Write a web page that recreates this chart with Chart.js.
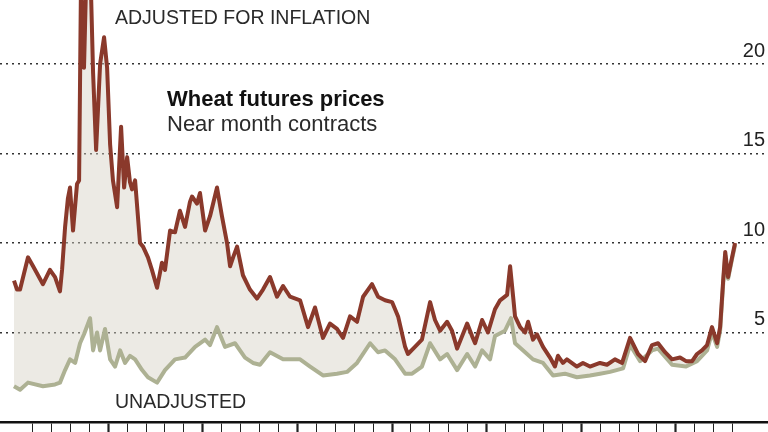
<!DOCTYPE html>
<html>
<head>
<meta charset="utf-8">
<script src="https://cdn.jsdelivr.net/npm/chart.js@4.4.1/dist/chart.umd.min.js"></script>
<style>
  html, body { margin: 0; padding: 0; background: #fff; }
  #wrap { width: 768px; height: 432px; }
</style>
</head>
<body>
<div id="wrap"><canvas id="wheat" width="768" height="432"></canvas></div>
<script>
// wheat futures, near month contracts, dollars per bushel
// adjusted = in 2008 dollars
var adjYears = [1970.02, 1970.18, 1970.34, 1970.76, 1971.03, 1971.55, 1971.92, 1972.19, 1972.45, 1972.56,
  1972.72, 1972.87, 1972.98, 1973.14, 1973.35, 1973.46, 1973.56, 1973.72, 1973.83, 1974.09,
  1974.20, 1974.36, 1974.46, 1974.57, 1974.78, 1974.94, 1975.10, 1975.25, 1975.47, 1975.68,
  1975.84, 1976.00, 1976.15, 1976.26, 1976.42, 1976.68, 1976.84, 1977.10, 1977.31, 1977.58,
  1977.84, 1978.00, 1978.27, 1978.53, 1978.79, 1979.06, 1979.32, 1979.43, 1979.69, 1979.85,
  1980.12, 1980.38, 1980.75, 1981.01, 1981.28, 1981.44, 1981.60, 1981.81, 1982.12, 1982.49,
  1982.86, 1983.18, 1983.55, 1983.92, 1984.24, 1984.61, 1985.14, 1985.56, 1985.93, 1986.35,
  1986.72, 1987.09, 1987.41, 1987.78, 1988.15, 1988.47, 1988.94, 1989.26, 1989.63, 1990.00,
  1990.32, 1990.69, 1990.84, 1991.21, 1991.58, 1992.01, 1992.27, 1992.54, 1992.91, 1993.17,
  1993.44, 1993.97, 1994.23, 1994.39, 1994.76, 1995.07, 1995.44, 1995.71, 1996.08, 1996.24,
  1996.40, 1996.50, 1996.77, 1997.03, 1997.19, 1997.45, 1997.66, 1997.98, 1998.35, 1998.61,
  1998.77, 1999.03, 1999.24, 1999.77, 2000.09, 2000.46, 2000.99, 2001.36, 2001.78, 2002.16,
  2002.58, 2003.00, 2003.37, 2003.74, 2004.06, 2004.43, 2004.80, 2005.22, 2005.54, 2005.86,
  2006.12, 2006.38, 2006.65, 2006.91, 2007.18, 2007.34, 2007.50, 2007.61, 2007.76, 2007.97,
  2008.13];
var adjPrices = [7.9, 7.4, 7.4, 9.2, 8.7, 7.7, 8.5, 8.1, 7.3, 8.5,
  10.9, 12.5, 13.1, 10.7, 13.3, 13.5, 24.5, 19.8, 24.5, 24.0,
  19.5, 15.2, 17.5, 20.0, 21.5, 19.8, 15.5, 13.5, 12.0, 16.5,
  13.1, 14.8, 13.4, 13.0, 13.5, 10.0, 9.8, 9.2, 8.5, 7.5,
  8.9, 8.5, 10.7, 10.6, 11.8, 10.9, 12.3, 12.6, 12.2, 12.8,
  10.7, 11.5, 13.1, 11.5, 10.0, 8.7, 9.2, 9.8, 8.2, 7.4,
  6.9, 7.4, 8.1, 7.0, 7.6, 7.0, 6.8, 5.3, 6.4, 4.7,
  5.5, 5.2, 4.7, 5.9, 5.6, 7.0, 7.7, 7.0, 6.8, 6.7,
  5.9, 4.2, 3.8, 4.2, 4.6, 6.7, 5.7, 5.1, 5.6, 5.1,
  4.1, 5.5, 4.8, 4.4, 5.7, 5.0, 6.3, 6.8, 7.1, 8.7,
  7.0, 5.9, 5.3, 5.0, 5.6, 4.6, 4.9, 4.2, 3.6, 3.1,
  3.7, 3.3, 3.5, 3.1, 3.3, 3.1, 3.3, 3.2, 3.5, 3.3,
  4.7, 3.8, 3.4, 4.3, 4.4, 3.9, 3.5, 3.6, 3.4, 3.4,
  3.8, 4.0, 4.3, 5.3, 4.4, 5.3, 7.9, 9.5, 8.1, 9.2,
  10.0];

var unadjYears = [1970.02, 1970.34, 1970.76, 1971.55, 1972.19, 1972.45, 1972.72, 1972.98, 1973.25, 1973.51,
  1973.72, 1974.04, 1974.20, 1974.41, 1974.57, 1974.83, 1975.10, 1975.36, 1975.63, 1975.89,
  1976.15, 1976.42, 1976.79, 1977.10, 1977.58, 1978.00, 1978.53, 1979.06, 1979.59, 1980.12,
  1980.38, 1980.75, 1981.17, 1981.70, 1982.23, 1982.65, 1983.02, 1983.55, 1984.24, 1985.14,
  1985.67, 1986.35, 1987.09, 1987.62, 1988.15, 1988.84, 1989.26, 1989.63, 1990.16, 1990.69,
  1991.06, 1991.58, 1992.01, 1992.54, 1992.91, 1993.44, 1993.97, 1994.39, 1994.76, 1995.18,
  1995.44, 1995.97, 1996.29, 1996.50, 1996.93, 1997.45, 1997.98, 1998.51, 1999.14, 1999.77,
  2000.46, 2000.99, 2001.52, 2002.21, 2002.58, 2003.11, 2003.74, 2004.06, 2004.80, 2005.54,
  2006.12, 2006.65, 2006.91, 2007.18, 2007.34, 2007.50, 2007.61, 2007.76, 2007.97, 2008.13];
var unadjPrices = [2.0, 1.8, 2.2, 2.0, 2.1, 2.2, 2.9, 3.5, 3.3, 4.4,
  4.9, 5.8, 4.0, 5.0, 4.0, 5.2, 3.5, 3.1, 4.0, 3.3,
  3.7, 3.5, 2.9, 2.5, 2.2, 2.9, 3.5, 3.6, 4.2, 4.6,
  4.3, 5.3, 4.2, 4.4, 3.6, 3.3, 3.2, 3.9, 3.5, 3.5,
  3.1, 2.6, 2.7, 2.8, 3.3, 4.4, 3.9, 4.0, 3.5, 2.7,
  2.7, 3.1, 4.4, 3.5, 3.8, 2.9, 3.8, 3.1, 4.0, 3.5,
  4.8, 5.1, 5.8, 4.4, 4.0, 3.5, 3.3, 2.6, 2.7, 2.5,
  2.6, 2.7, 2.8, 3.0, 4.3, 3.4, 4.0, 4.1, 3.2, 3.1,
  3.4, 4.0, 5.0, 4.2, 5.1, 7.7, 9.3, 8.0, 9.1, 9.9];

var gridValues = [5, 10, 15, 20];
var firstTickYear = 1971;
var lastTickYear = 2008;

function toPoints(xs, ys) {
  return xs.map(function (x, i) { return { x: x, y: ys[i] }; });
}

// text labels placed on the graphic
var notes = {
  id: 'notes',
  afterDatasetsDraw: function (chart) {
    var c = chart.ctx;
    c.save();
    c.textBaseline = 'alphabetic';
    c.textAlign = 'left';
    c.fillStyle = '#2a2a2a';
    c.font = '19.5px "Liberation Sans", Arial, sans-serif';
    c.fillText('ADJUSTED FOR INFLATION', 115, 24);
    c.fillText('UNADJUSTED', 115, 408);
    c.fillStyle = '#111';
    c.font = 'bold 22px "Liberation Sans", Arial, sans-serif';
    c.fillText('Wheat futures prices', 167, 106);
    c.fillStyle = '#2a2a2a';
    c.font = '22px "Liberation Sans", Arial, sans-serif';
    c.fillText('Near month contracts', 167, 131);
    c.restore();
  }
};

new Chart(document.getElementById('wheat').getContext('2d'), {
  type: 'line',
  data: {
    datasets: [{
      label: 'Adjusted for inflation',
      data: toPoints(adjYears, adjPrices),
      borderColor: '#8a392b',
      borderWidth: 4,
      borderJoinStyle: 'round',
      pointRadius: 0,
      fill: '+1',
      backgroundColor: 'rgba(212,208,196,0.45)'
    }, {
      label: 'Unadjusted',
      data: toPoints(unadjYears, unadjPrices),
      borderColor: '#adb193',
      borderWidth: 4,
      borderJoinStyle: 'round',
      pointRadius: 0,
      fill: false
    }]
  },
  options: {
    responsive: false,
    animation: false,
    layout: { padding: 0 },
    plugins: {
      legend: { display: false },
      tooltip: { enabled: false },
      filler: { drawTime: 'beforeDatasetsDraw' }
    },
    scales: {
      x: {
        type: 'linear',
        min: 1969.28,
        max: 2009.87,
        afterBuildTicks: function (axis) {
          var t = [];
          for (var yr = firstTickYear; yr <= lastTickYear; yr++) t.push({ value: yr });
          axis.ticks = t;
        },
        ticks: { display: false },
        grid: {
          drawOnChartArea: false,
          drawTicks: true,
          tickLength: 10,
          tickColor: '#222',
          tickWidth: function (ctx) { return ctx.tick && ctx.tick.value % 5 === 0 ? 2.2 : 1; }
        },
        border: { display: true, color: '#111', width: 2.5 }
      },
      y: {
        position: 'right',
        min: 0,
        max: 23.58,
        afterBuildTicks: function (axis) {
          axis.ticks = gridValues.map(function (v) { return { value: v }; });
        },
        ticks: {
          mirror: true,
          padding: -3,
          labelOffset: -13,
          color: '#222',
          font: { family: '"Liberation Sans", Arial, sans-serif', size: 20, lineHeight: 0 }
        },
        grid: { color: '#333', lineWidth: 1.5, drawTicks: false },
        border: { display: false, dash: [2, 4] }
      }
    }
  },
  plugins: [notes]
});
</script>
</body>
</html>
